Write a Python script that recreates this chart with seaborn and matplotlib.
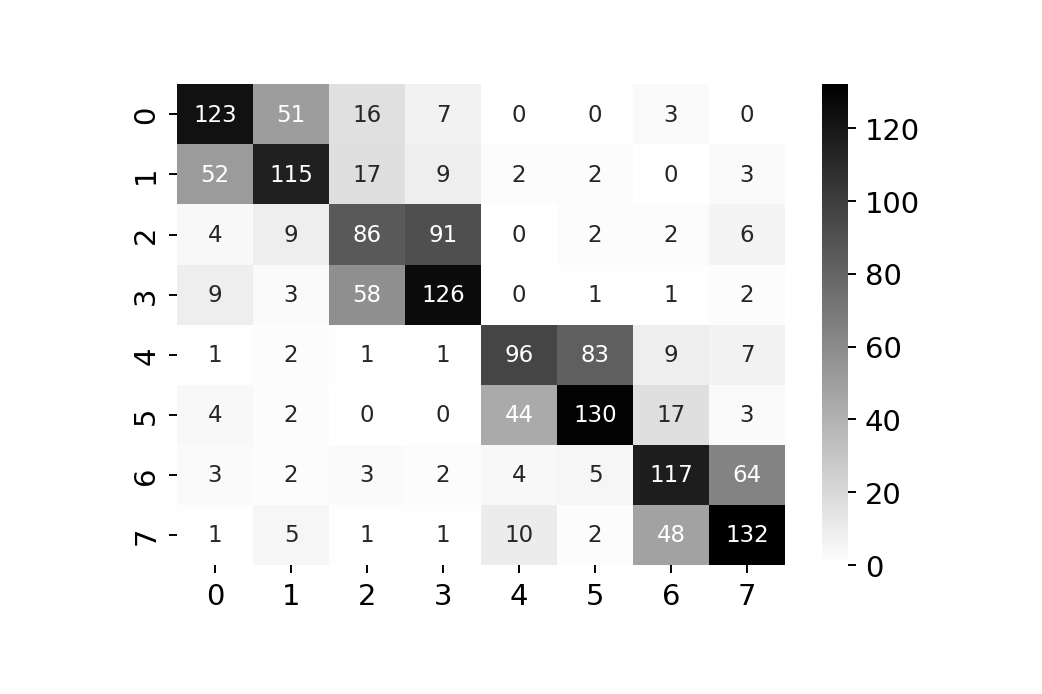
import numpy as np
import seaborn as sns
import matplotlib.pyplot as plt

# confusion matrix values, rows = true class, cols = predicted class
labels = [0, 1, 2, 3, 4, 5, 6, 7]
row0 = [123, 51, 16, 7, 0, 0, 3, 0]
row1 = [52, 115, 17, 9, 2, 2, 0, 3]
row2 = [4, 9, 86, 91, 0, 2, 2, 6]
row3 = [9, 3, 58, 126, 0, 1, 1, 2]
row4 = [1, 2, 1, 1, 96, 83, 9, 7]
row5 = [4, 2, 0, 0, 44, 130, 17, 3]
row6 = [3, 2, 3, 2, 4, 5, 117, 64]
row7 = [1, 5, 1, 1, 10, 2, 48, 132]

cm = np.array([row0, row1, row2, row3, row4, row5, row6, row7])

fig = plt.figure(figsize=(6, 4), dpi=173.67)
ax = fig.add_axes([0.1699, 0.1856, 0.5835, 0.6921])
cax = fig.add_axes([0.7889, 0.1856, 0.0249, 0.6921])

sns.heatmap(cm, annot=True, fmt="d", cmap="binary", vmin=0,
            xticklabels=labels, yticklabels=labels,
            annot_kws={"fontsize": 9.5}, ax=ax, cbar_ax=cax)

# white text on the darker cells
for txt, val in zip(ax.texts, cm.flat):
    txt.set_color("w" if val / cm.max() > 0.3 else ".15")

ax.tick_params(axis="both", labelsize=12)
plt.setp(ax.get_yticklabels(), rotation=90, va="center")
cax.tick_params(labelsize=12)

fig.savefig("out.png", dpi=173.67)
